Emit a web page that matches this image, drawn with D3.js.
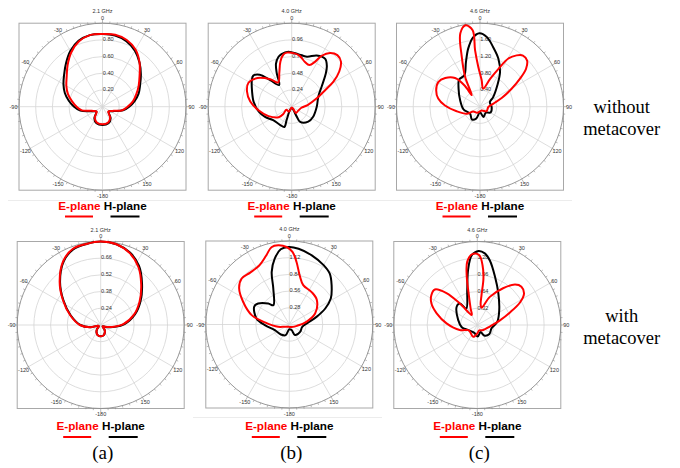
<!DOCTYPE html>
<html>
<head>
<meta charset="utf-8">
<script src="https://cdn.jsdelivr.net/npm/d3@7"></script>
<style>
  body { margin: 0; background: #fff; }
  svg { display: block; }
</style>
</head>
<body>
<svg id="fig" width="680" height="468"></svg>
<script>
// Frequencies (panel titles) and row captions
const freqs = ["2.1 GHz", "4.0 GHz", "4.6 GHz"];
const panelTags = ["(a)", "(b)", "(c)"];
const rowNotes = [["without", "metacover"], ["with", "metacover"]];

// Radial tick labels of each panel (inner four rings)
const ringsWithout21 = [0.20, 0.40, 0.60, 0.80];
const ringsWithout40 = [0.24, 0.48, 0.72, 0.96];
const ringsWithout46 = [0.40, 0.80, 1.20, 1.60];
const ringsWith21 = [0.24, 0.38, 0.52, 0.66];
const ringsWith40 = [0.28, 0.56, 0.84, 1.12];
const ringsWith46 = [0.32, 0.64, 0.96, 1.28];

// Patterns: [angle in degrees, value], in path order
const hWithout21 = [[0,0.87],[10,0.865],[20,0.835],[30,0.775],[40,0.69],[50,0.60],[60,0.52],[70,0.46],[80,0.39],[90,0.32],
  [100,0.25],[110,0.155],[120,0.11],[130,0.095],[145,0.17],[160,0.21],[180,0.22],[-160,0.21],[-145,0.17],
  [-130,0.095],[-120,0.11],[-110,0.16],[-100,0.27],[-90,0.34],[-80,0.41],
  [-70,0.48],[-60,0.54],[-50,0.60],[-40,0.68],[-30,0.77],[-20,0.84],[-10,0.87]];
const eWithout21 = [[0,0.87],[10,0.875],[20,0.85],[30,0.79],[40,0.69],[50,0.58],[60,0.50],[70,0.43],[80,0.37],[90,0.30],
  [100,0.24],[110,0.145],[120,0.105],[130,0.09],[145,0.16],[160,0.20],[180,0.21],[-160,0.20],[-145,0.16],
  [-130,0.09],[-120,0.105],[-110,0.14],[-100,0.25],[-90,0.31],[-80,0.37],
  [-70,0.44],[-60,0.50],[-50,0.56],[-40,0.65],[-30,0.75],[-20,0.83],[-10,0.87]];

const hWithout40 = [[-3.5,0.79],[7,0.76],[17,0.75],[26,0.82],[35,0.84],[41,0.77],[46,0.68],[56,0.52],[69,0.41],[90,0.36],
  [115,0.34],[132,0.32],[151,0.25],[153,0.16],[175,0.02],[-153,0.05],[-159,0.20],[-160,0.31],[-147,0.31],[-126,0.33],
  [-111,0.41],[-98,0.48],[-83,0.55],[-69,0.61],[-56,0.69],[-51,0.71],[-45,0.65],[-39,0.49],[-30,0.36],[-24,0.53],
  [-20,0.66],[-15,0.74],[-11,0.77]];
const eWithout40 = [[-5,0.78],[2,0.77],[9,0.74],[16.5,0.67],[23,0.65],[27.5,0.73],[30.5,0.85],[35.5,0.95],[41.5,0.99],
  [47.5,0.96],[53.5,0.85],[59,0.70],[63.5,0.54],[71.5,0.38],[84,0.23],[96,0.14],[121,0.11],[147,0.11],[145,0.05],
  [175,0.01],[-152,0.08],[-120,0.09],[-131,0.16],[-129,0.24],[-112,0.36],[-96,0.48],[-83,0.60],[-71,0.68],[-61,0.71],
  [-50,0.64],[-38,0.50],[-29,0.40],[-20,0.52],[-14,0.67],[-9,0.76]];

const hWithout46 = [[-0.5,1.76],[5.5,1.68],[12.5,1.46],[21,1.23],[30,0.96],[39,0.66],[54,0.39],[65,0.26],[92,0.28],
  [119,0.29],[135,0.20],[162,0.26],[180,0.13],[-162,0.30],[-147,0.36],[-125,0.29],[-99,0.40],[-72,0.50],[-50,0.67],
  [-37.5,0.82],[-26.5,0.84],[-17.5,1.12],[-11.5,1.42],[-6,1.66]];
const eWithout46 = [[-10,1.98],[-5.5,1.84],[-5,1.36],[-2.5,0.96],[3.5,0.64],[10,0.44],[20,0.71],[26,1.01],[30.5,1.34],
  [35.5,1.51],[40,1.60],[45.5,1.58],[50.5,1.43],[55,1.17],[60.5,0.87],[68,0.56],[77,0.33],[92,0.20],[125,0.19],
  [156,0.10],[-156,0.16],[-125,0.20],[-118,0.36],[-101,0.57],[-88,0.84],[-79,1.02],[-69.5,1.12],[-59.5,1.16],
  [-50.5,1.08],[-41,0.91],[-36,0.62],[-35.5,0.34],[-26.5,0.80],[-20,1.28],[-15,1.82]];

const hWith21 = [[0,0.80],[11,0.79],[22,0.755],[33,0.69],[45,0.59],[59,0.49],[73,0.40],[88,0.30],[97.5,0.22],[111,0.145],
  [125,0.12],[140,0.15],[150,0.17],[165,0.19],[180,0.195],[-165,0.19],[-150,0.17],[-140,0.15],[-125,0.12],[-106,0.125],
  [-102,0.19],[-90,0.27],[-72,0.365],[-56.5,0.475],[-43.5,0.595],[-30.5,0.715],[-20,0.775],[-10,0.79]];
const eWith21 = [[0,0.80],[11,0.79],[22,0.75],[33,0.68],[45,0.58],[59,0.48],[73,0.39],[88,0.29],[97.5,0.21],[111,0.14],
  [125,0.12],[140,0.15],[150,0.17],[165,0.19],[180,0.195],[-165,0.19],[-150,0.17],[-140,0.15],[-125,0.12],[-106,0.12],
  [-102,0.19],[-90,0.275],[-72,0.37],[-56.5,0.48],[-43.5,0.60],[-30.5,0.72],[-20,0.78],[-10,0.79]];

const hWith40 = [[-0.5,1.30],[7,1.28],[18,1.22],[30,1.15],[38.5,1.09],[47,0.97],[58,0.82],[66,0.66],[74,0.48],[84,0.32],
  [100,0.22],[124.5,0.22],[152,0.20],[157.5,0.10],[180,0.08],[-161,0.19],[-140,0.22],[-111.5,0.26],[-91.5,0.41],
  [-79.5,0.56],[-63,0.66],[-56,0.63],[-45,0.50],[-39.5,0.42],[-24,0.66],[-18.5,0.93],[-12.5,1.13],[-6.5,1.27]];
const eWith40 = [[-8,1.34],[-2,1.30],[2.5,1.22],[6.5,1.06],[12,0.84],[19.5,0.70],[34.5,0.66],[48,0.62],[67,0.47],
  [81,0.29],[100,0.13],[135,0.06],[180,0.04],[-118,0.08],[-102,0.19],[-85,0.41],[-76,0.65],[-64,0.86],[-54,1.04],
  [-46,1.11],[-37,1.09],[-27,1.11],[-18.5,1.22],[-13,1.33]];

const hWith46 = [[1,1.42],[6,1.38],[11,1.26],[20,0.99],[33.5,0.73],[55.5,0.51],[80.5,0.39],[103,0.28],[127,0.29],
  [147,0.24],[155,0.15],[178,0.22],[-157,0.16],[-119,0.20],[-98,0.30],[-75,0.38],[-48,0.53],[-39,0.53],[-34,0.38],
  [-16,0.70],[-9.5,1.07],[-4.5,1.34]];
const eWith46 = [[-4,1.36],[1.5,1.34],[5,1.15],[7.5,0.90],[8,0.58],[9.5,0.39],[14,0.34],[24,0.59],[35,0.86],[43,1.06],
  [49,1.12],[56,1.08],[62,0.93],[69,0.67],[78,0.45],[97,0.24],[130,0.15],[160,0.11],[180,0.16],[-161,0.24],
  [-132,0.19],[-119,0.20],[-106,0.35],[-87,0.59],[-74,0.81],[-65,0.97],[-57,1.05],[-50,1.06],[-44,0.85],[-39,0.53],
  [-29,0.22],[-22,0.34],[-15,0.66],[-12,0.98],[-9,1.23]];

const R = 83.5;
const svg = d3.select("#fig");
const fmt = d3.format(".2f");
const toRad = a => a * Math.PI / 180;

const panels = [
  {cx: 102.5, cy: 106.7, col: 0, row: 0, rings: ringsWithout21, h: hWithout21, e: eWithout21},
  {cx: 291.7, cy: 106.7, col: 1, row: 0, rings: ringsWithout40, h: hWithout40, e: eWithout40},
  {cx: 480.0, cy: 106.7, col: 2, row: 0, rings: ringsWithout46, h: hWithout46, e: eWithout46},
  {cx: 100.7, cy: 325.0, col: 0, row: 1, rings: ringsWith21, h: hWith21, e: eWith21},
  {cx: 289.3, cy: 324.5, col: 1, row: 1, rings: ringsWith40, h: hWith40, e: eWith40},
  {cx: 477.3, cy: 325.0, col: 2, row: 1, rings: ringsWith46, h: hWith46, e: eWith46}
];
const legendY = [209.5, 430];

// faint separators left from the original layout
svg.append("line").attr("x1", 8).attr("x2", 572).attr("y1", 200.5).attr("y2", 200.5)
  .attr("stroke", "#ececec").attr("stroke-width", 1);
svg.append("line").attr("x1", 193).attr("x2", 382).attr("y1", 417.5).attr("y2", 417.5)
  .attr("stroke", "#ececec").attr("stroke-width", 1);

panels.forEach(function(p) {
  const g = svg.append("g").attr("transform", "translate(" + p.cx + "," + p.cy + ")");
  const step = p.rings[1] - p.rings[0];
  const r = d3.scaleLinear()
    .domain([p.rings[0] - step, p.rings[p.rings.length - 1] + step])
    .range([0, R]);

  g.append("rect")
    .attr("x", -R).attr("y", -R).attr("width", 2 * R).attr("height", 2 * R)
    .attr("fill", "none").attr("stroke", "#a8a8a8").attr("stroke-width", 1);

  // rings and spokes
  g.selectAll(".ring").data(p.rings).enter().append("circle")
    .attr("r", d => r(d)).attr("fill", "none")
    .attr("stroke", "#d4d4d4").attr("stroke-width", 0.8);
  g.selectAll(".spoke").data(d3.range(0, 360, 30)).enter().append("line")
    .attr("x1", 0).attr("y1", 0)
    .attr("x2", d => R * Math.sin(toRad(d))).attr("y2", d => -R * Math.cos(toRad(d)))
    .attr("stroke", "#d4d4d4").attr("stroke-width", 0.8);

  g.append("circle").attr("r", R).attr("fill", "none")
    .attr("stroke", "#8c8c8c").attr("stroke-width", 0.9);
  g.selectAll(".tick").data(d3.range(0, 360, 5)).enter().append("line")
    .attr("x1", d => R * Math.sin(toRad(d))).attr("y1", d => -R * Math.cos(toRad(d)))
    .attr("x2", d => (R + (d % 30 === 0 ? 3.5 : 2)) * Math.sin(toRad(d)))
    .attr("y2", d => -(R + (d % 30 === 0 ? 3.5 : 2)) * Math.cos(toRad(d)))
    .attr("stroke", "#8c8c8c").attr("stroke-width", 0.6);

  // angle labels
  g.selectAll(".alab").data(d3.range(0, 360, 30)).enter().append("text")
    .attr("x", d => (R + 5.5) * Math.sin(toRad(d)))
    .attr("y", d => -(R + 5.5) * Math.cos(toRad(d)))
    .attr("text-anchor", "middle").attr("dominant-baseline", "central")
    .attr("font-family", "Liberation Sans, Arial, sans-serif").attr("font-size", 5.5)
    .attr("fill", "#333")
    .text(d => d === 0 ? "0" : d < 180 ? d : d - 360);

  // ring labels
  g.selectAll(".rlab").data(p.rings).enter().append("text")
    .attr("x", 0.3).attr("y", d => -r(d) + 1.2)
    .attr("font-family", "Liberation Sans, Arial, sans-serif").attr("font-size", 5.6)
    .attr("fill", "#333")
    .text(d => fmt(d));

  g.append("text").attr("x", 0).attr("y", -R - 12)
    .attr("text-anchor", "middle").attr("dominant-baseline", "central")
    .attr("font-family", "Liberation Sans, Arial, sans-serif").attr("font-size", 5.5)
    .attr("fill", "#333").text(freqs[p.col]);

  // patterns
  const line = d3.lineRadial()
    .angle(d => toRad(d[0]))
    .radius(d => r(d[1]))
    .curve(d3.curveCatmullRomClosed.alpha(0.5));
  g.append("path").attr("d", line(p.h)).attr("fill", "none")
    .attr("stroke", "#000").attr("stroke-width", 2).attr("stroke-linejoin", "round");
  g.append("path").attr("d", line(p.e)).attr("fill", "none")
    .attr("stroke", "#f00").attr("stroke-width", 2).attr("stroke-linejoin", "round");

  // legend
  const ly = legendY[p.row];
  const lt = svg.append("text").attr("x", p.cx).attr("y", ly)
    .attr("text-anchor", "middle")
    .attr("font-family", "Liberation Sans, Arial, sans-serif")
    .attr("font-size", 11.7).attr("font-weight", "bold");
  lt.append("tspan").attr("fill", "#f00").text("E-plane");
  lt.append("tspan").attr("fill", "#000").text(" H-plane");
  svg.append("rect").attr("x", p.cx - 37.5).attr("y", ly + 6).attr("width", 28).attr("height", 2).attr("fill", "#f00");
  svg.append("rect").attr("x", p.cx + 8).attr("y", ly + 6).attr("width", 29).attr("height", 2).attr("fill", "#000");

  if (p.row === 1) {
    svg.append("text").attr("x", p.cx + 2).attr("y", 459)
      .attr("text-anchor", "middle")
      .attr("font-family", "Liberation Serif, Times New Roman, serif")
      .attr("font-size", 19).attr("fill", "#000")
      .text(panelTags[p.col]);
  }
});

// row captions on the right
[[112.5, 135], [322, 344]].forEach(function(ys, i) {
  rowNotes[i].forEach(function(t, j) {
    svg.append("text").attr("x", 621.7).attr("y", ys[j])
      .attr("text-anchor", "middle")
      .attr("font-family", "Liberation Serif, Times New Roman, serif")
      .attr("font-size", 18.5).attr("fill", "#000")
      .text(t);
  });
});
</script>
</body>
</html>
